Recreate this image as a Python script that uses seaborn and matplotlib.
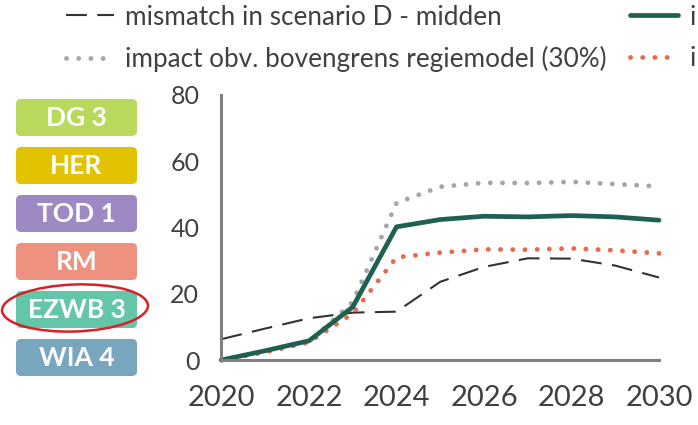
import numpy as np
import pandas as pd
import matplotlib
matplotlib.use("Agg")
import matplotlib.pyplot as plt
import seaborn as sns
from matplotlib.patches import FancyBboxPatch, Ellipse

## data
years = [2020, 2021, 2022, 2023, 2024, 2025, 2026, 2027, 2028, 2029, 2030]
mismatch_D = [6.3, 9.5, 12.6, 14.3, 14.6, 23.6, 28.1, 30.7, 30.6, 28.5, 24.9]
impact_midden = [0, 2.8, 5.8, 16.0, 40.2, 42.4, 43.4, 43.2, 43.6, 43.2, 42.2]
impact_boven = [0, 2.4, 5.4, 17.5, 47.4, 52.3, 53.5, 53.4, 53.8, 53.1, 52.4]
impact_onder = [0, 2.4, 5.4, 14.0, 31.0, 32.4, 33.4, 33.3, 33.7, 33.1, 32.2]

## right legend column is cropped in the reference: only "i" is visible
series_labels = ["mismatch in scenario D - midden",
                 "impact obv. bovengrens regiemodel (30%)",
                 "i",
                 "i"]

x_ticks = [2020, 2022, 2024, 2026, 2028, 2030]
y_ticks = [0, 20, 40, 60, 80]

tag_labels = ["DG 3", "HER", "TOD 1", "RM", "EZWB 3", "WIA 4"]
tag_colors = ["#b8d95c", "#e3c200", "#9e89c5", "#ef917f", "#64c6a8", "#78a6bf"]

## setting
sns.set_style("white")
plt.rcParams['font.family'] = ['Lato', 'DejaVu Sans']
grey_txt = "#404040"
axis_grey = "#7f7f7f"

fig = plt.figure(figsize=(6.98, 4.25), dpi=100)
ax = fig.add_axes([221.5 / 698, 1 - 360 / 425, (659 - 221.5) / 698, (360 - 95) / 425])

df = pd.DataFrame({"year": years, "D": mismatch_D, "mid": impact_midden,
                   "boven": impact_boven, "onder": impact_onder})

sns.lineplot(data=df, x="year", y="D", ax=ax, color="#333333", linewidth=1.5,
             linestyle=(0, (10, 5)), clip_on=False)
sns.lineplot(data=df, x="year", y="boven", ax=ax, color="#a6a6a6", linewidth=3.5,
             linestyle=(0, (0.01, 2.5)), dash_capstyle="round", clip_on=False)
sns.lineplot(data=df, x="year", y="onder", ax=ax, color="#e96a4b", linewidth=3.5,
             linestyle=(0, (0.01, 2.5)), dash_capstyle="round", clip_on=False)
sns.lineplot(data=df, x="year", y="mid", ax=ax, color="#1e6150", linewidth=3.4,
             clip_on=False, solid_capstyle="round")

ax.set_xlim(2020, 2030)
ax.set_ylim(0, 80)
ax.set_xticks(x_ticks)
ax.set_yticks(y_ticks)
ax.set_xlabel("")
ax.set_ylabel("")
sns.despine(ax=ax)
for side in ["left", "bottom"]:
    ax.spines[side].set_color(axis_grey)
    ax.spines[side].set_linewidth(2.2)
ax.tick_params(axis="both", direction="out", length=6, width=2.2, color=axis_grey, labelcolor=grey_txt)
ax.tick_params(axis="y", labelsize=18, pad=10)
ax.tick_params(axis="x", labelsize=21, pad=12)

## legend (two columns): dashed, grey dots | green, orange dots
lines = ax.get_lines()
handles = [lines[0], lines[1], lines[3], lines[2]]
fig.legend(handles, series_labels, ncol=2, frameon=False,
           loc="upper left", bbox_to_anchor=(63.4 / 698, 1 - 2 / 425), fontsize=18.8,
           labelcolor=grey_txt, handlelength=1.85, handletextpad=0.42,
           columnspacing=0.88, labelspacing=0.63, borderaxespad=0, borderpad=0.1)

## tags on the left
ov = fig.add_axes([0, 0, 1, 1], zorder=-1)
ov.set_xlim(0, 698)
ov.set_ylim(425, 0)
ov.axis("off")
box_top = [99, 147, 195, 243, 291, 339]
for lab, col, top in zip(tag_labels, tag_colors, box_top):
    ov.add_patch(FancyBboxPatch((16 + 5, top + 5), 121 - 10, 37 - 10,
                                boxstyle="round,pad=5", fc=col, ec="none"))
    ov.text(76.5, top + 19, lab, color="white", fontsize=19, fontweight="bold",
            ha="center", va="center")
ov.add_patch(Ellipse((75, 308), 146, 47, angle=-2, fill=False, ec="#d92027", lw=1.8))

plt.savefig("out.png", dpi=100)
